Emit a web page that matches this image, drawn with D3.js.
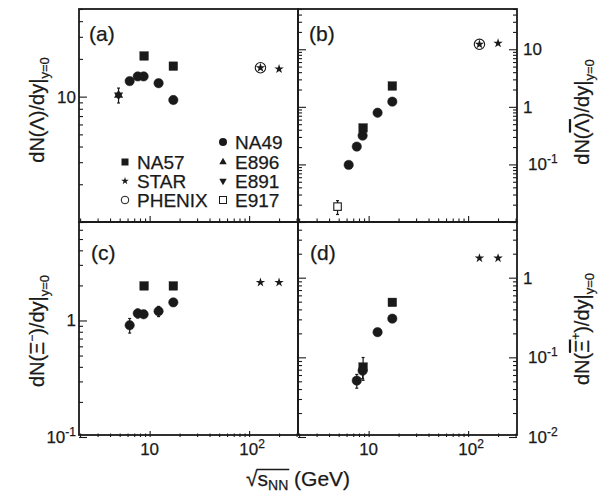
<!DOCTYPE html>
<html><head><meta charset="utf-8">
<script src="https://cdn.jsdelivr.net/npm/d3@7"></script>
<style>
body{margin:0;background:#fff}
text{font-family:"Liberation Sans",Arial,Helvetica,sans-serif;fill:#1a1a1a;stroke:#1a1a1a;stroke-width:0.25px}
</style>
</head><body>
<svg id="c" width="613" height="497"></svg>
<script>
// ---------------- data ----------------
const energyNA49 = [6.3, 7.6, 8.7, 12.3, 17.3];
const energyNA57 = [8.8, 17.3];
const energySTAR = [130, 200];
const energyPHENIX = [130];
const energyAGS = [4.87];

// Lambda
const lambdaNA49 = [13.3, 14.5, 14.5, 12.8, 9.4];
const lambdaNA57 = [21.1, 17.5];
const lambdaSTAR = [17.0, 16.6];
const lambdaPHENIX = [17.0];
const lambdaE896 = [10.3];
const lambdaE891 = [10.3];
const lambdaAGSErr = [1.4];

// anti-Lambda
const alambdaNA49 = [0.098, 0.204, 0.316, 0.79, 1.23];
const alambdaNA49Err = [0.01, 0.01, 0.02, 0.04, 0.05];
const alambdaNA57 = [0.43, 2.3];
const alambdaSTAR = [12.2, 12.7];
const alambdaPHENIX = [12.2];
const alambdaE917 = [0.0185];
const alambdaE917Err = [0.005];

// Xi-
const xiNA49 = [0.91, 1.15, 1.13, 1.2, 1.43];
const xiNA49Err = [0.13, 0.1, 0.06, 0.12, 0.05];
const xiNA57 = [1.98, 1.98];
const xiSTAR = [2.12, 2.12];

// anti-Xi+
const energyNA49axi = [7.6, 8.7, 12.3, 17.3];
const axiNA49 = [0.051, 0.068, 0.207, 0.306];
const axiNA49Err = [0.01, 0.014, 0.02, 0.02];
const axiNA57 = [0.0755, 0.49];
const axiNA57Err = [0.024, 0.03];
const axiSTAR = [1.76, 1.76];

const xDomain = [1.95, 310];

// ---------------- layout ----------------
const L = 79, M = 298, R = 517, T = 9, MY = 222, B = 437;
const svg = d3.select("#c");
const ink = "#1a1a1a";

const xL = d3.scaleLog().domain(xDomain).range([L, M]);
const xR = d3.scaleLog().domain(xDomain).range([M, R]);
const yA = d3.scaleLog().domain([1, 50]).range([MY, T]);
const yB = d3.scaleLog().domain([0.01, 50]).range([MY, T]);
const yC = d3.scaleLog().domain([0.1, 7]).range([B, MY]);
const yD = d3.scaleLog().domain([0.01, 5]).range([B, MY]);

function logTicks(dom) {
  const [a, b] = dom, major = [], minor = [];
  for (let e = Math.floor(Math.log10(a)); e <= Math.ceil(Math.log10(b)); e++) {
    for (let k = 1; k <= 9; k++) {
      const v = k * Math.pow(10, e);
      if (v >= a * 0.999 && v <= b * 1.001) (k === 1 ? major : minor).push(v);
    }
  }
  return {major, minor};
}

function axisTicks(g, axisFn, scale, majorLen, minorLen) {
  const t = logTicks(scale.domain());
  [[t.major, majorLen], [t.minor, minorLen]].forEach(([vals, len]) => {
    const a = g.append("g").call(axisFn(scale).tickValues(vals).tickSize(len).tickFormat(""));
    a.select(".domain").remove();
    a.selectAll("line").attr("stroke", ink).attr("stroke-width", 1.1);
  });
}

// x ticks (pointing up) at bottom of each panel
[[xL, MY], [xR, MY], [xL, B], [xR, B]].forEach(([sx, yy]) => {
  axisTicks(svg.append("g").attr("transform", `translate(0,${yy})`), d3.axisTop, sx, 6, 3.5);
});
// y ticks
axisTicks(svg.append("g").attr("transform", `translate(${L},0)`), d3.axisRight, yA, 8, 4);
axisTicks(svg.append("g").attr("transform", `translate(${L},0)`), d3.axisRight, yC, 8, 4);
axisTicks(svg.append("g").attr("transform", `translate(${M},0)`), d3.axisRight, yB, 8, 4);
axisTicks(svg.append("g").attr("transform", `translate(${R},0)`), d3.axisLeft, yB, 8, 4);
axisTicks(svg.append("g").attr("transform", `translate(${M},0)`), d3.axisRight, yD, 8, 4);
axisTicks(svg.append("g").attr("transform", `translate(${R},0)`), d3.axisLeft, yD, 8, 4);

// frames
[[L, T], [M, T], [L, MY], [M, MY]].forEach(([x0, y0]) => {
  svg.append("rect").attr("x", x0).attr("y", y0).attr("width", M - L).attr("height", MY - T)
    .attr("fill", "none").attr("stroke", ink).attr("stroke-width", 1.8);
});

// ---------------- tick labels ----------------
function powLabel(x, y, base, exp, anchor) {
  const t = svg.append("text").attr("x", x).attr("y", y).attr("font-size", 17).attr("text-anchor", anchor);
  t.append("tspan").text(base);
  if (exp !== null) t.append("tspan").attr("font-size", 12).attr("dy", -7).text(exp);
  return t;
}
function fmtLabel(v) {
  const e = Math.round(Math.log10(v));
  if (e === 0) return ["1", null];
  if (e === 1) return ["10", null];
  return ["10", e < 0 ? "-" + (-e) : String(e)];
}
// x labels
[xL, xR].forEach(sx => {
  [10, 100].forEach(v => {
    const [b, e] = fmtLabel(v);
    const t = powLabel(sx(v), 455, b, e, "middle");
    if (e) t.attr("transform", "translate(3,0)");
  });
});
// left y labels
[[yA, [10]], [yC, [1, 0.1]]].forEach(([sy, vals]) => {
  vals.forEach(v => { const [b, e] = fmtLabel(v); powLabel(76, sy(v) + 6, b, e, "end"); });
});
// right y labels
[[yB, [10, 1, 0.1]], [yD, [1, 0.1, 0.01]]].forEach(([sy, vals]) => {
  vals.forEach(v => { const [b, e] = fmtLabel(v); powLabel(e ? 528 : 523, sy(v) + 6, b, e, "start"); });
});

// panel labels
[["(a)", 89, 41], ["(b)", 309, 41], ["(c)", 91, 260], ["(d)", 310, 260]].forEach(([s, x, y]) => {
  svg.append("text").attr("x", x).attr("y", y).attr("font-size", 21).text(s);
});

// ---------------- axis titles ----------------
function yTitle(x, y, parts) {
  const t = svg.append("text").attr("transform", `translate(${x},${y}) rotate(-90)`)
    .attr("text-anchor", "middle").attr("font-size", 20);
  parts.forEach(p => {
    const s = t.append("tspan").text(p.s);
    if (p.fs) s.attr("font-size", p.fs);
    if (p.dy) s.attr("dy", p.dy);
    if (p.over) s.style("text-decoration", "overline");
  });
}
yTitle(44, 110, [{s: "dN(Λ)/dy|"}, {s: "y=0", fs: 13, dy: 5}]);
yTitle(589, 112, [{s: "dN("}, {s: "Λ", over: true}, {s: ")/dy|"}, {s: "y=0", fs: 13, dy: 5}]);
yTitle(44, 331, [{s: "dN(Ξ"}, {s: "−", fs: 12, dy: -8}, {s: ")/dy|", dy: 8}, {s: "y=0", fs: 13, dy: 5}]);
yTitle(589, 329, [{s: "dN("}, {s: "Ξ", over: true}, {s: "+", fs: 12, dy: -9}, {s: ")/dy|", dy: 9}, {s: "y=0", fs: 13, dy: 5}]);

// x title: sqrt(s_NN) (GeV)
(function () {
  const t = svg.append("text").attr("x", 246).attr("y", 486).attr("font-size", 21);
  t.append("tspan").text("√");
  t.append("tspan").text("s");
  t.append("tspan").attr("font-size", 14).attr("dy", 4).text("NN");
  t.append("tspan").attr("dy", -4).text(" (GeV)");
  const n = t.node();
  const x0 = n.getStartPositionOfChar(0).x + 10.5;
  const x1 = n.getEndPositionOfChar(3).x + 1;
  svg.append("line").attr("x1", x0).attr("x2", x1).attr("y1", 469.5).attr("y2", 469.5)
    .attr("stroke", ink).attr("stroke-width", 1.3);
})();

// ---------------- markers ----------------
const gM = svg.append("g");
function errBars(sx, sy, xs, ys, errs) {
  xs.forEach((xv, i) => {
    if (ys[i] == null) return;
    const lo = ys[i] - errs[i], hi = ys[i] + errs[i];
    const px = sx(xv);
    gM.append("line").attr("x1", px).attr("x2", px).attr("y1", sy(Math.max(lo, 1e-4))).attr("y2", sy(hi))
      .attr("stroke", ink).attr("stroke-width", 1.2);
    [lo, hi].forEach(v => gM.append("line").attr("x1", px - 1.5).attr("x2", px + 1.5)
      .attr("y1", sy(Math.max(v, 1e-4))).attr("y2", sy(Math.max(v, 1e-4))).attr("stroke", ink).attr("stroke-width", 1.2));
  });
}
function circles(sx, sy, xs, ys, open) {
  xs.forEach((xv, i) => {
    if (ys[i] == null) return;
    gM.append("circle").attr("cx", sx(xv)).attr("cy", sy(ys[i])).attr("r", open ? 5.2 : 4.7)
      .attr("fill", open ? "none" : ink).attr("stroke", ink).attr("stroke-width", open ? 1.1 : 0.5);
  });
}
function squares(sx, sy, xs, ys, open) {
  const s = open ? 7.5 : 8.6;
  xs.forEach((xv, i) => {
    gM.append("rect").attr("x", sx(xv) - s / 2).attr("y", sy(ys[i]) - s / 2).attr("width", s).attr("height", s)
      .attr("fill", open ? "#fff" : ink).attr("stroke", ink).attr("stroke-width", open ? 1.1 : 0.4);
  });
}
function syms(sx, sy, xs, ys, type, size, rot) {
  xs.forEach((xv, i) => {
    gM.append("path").attr("d", d3.symbol().type(type).size(size)())
      .attr("transform", `translate(${sx(xv)},${sy(ys[i])}) rotate(${rot || 0})`).attr("fill", ink);
  });
}
const starSize = 28;

// (a)
errBars(xL, yA, energyAGS, lambdaE896, lambdaAGSErr);
syms(xL, yA, energyAGS, lambdaE896, d3.symbolTriangle, 36, 0);
syms(xL, yA, energyAGS, lambdaE891, d3.symbolTriangle, 36, 180);
circles(xL, yA, energyNA49, lambdaNA49);
squares(xL, yA, energyNA57, lambdaNA57);
circles(xL, yA, energyPHENIX, lambdaPHENIX, true);
syms(xL, yA, energySTAR, lambdaSTAR, d3.symbolStar, starSize);

// (b)
errBars(xR, yB, energyAGS, alambdaE917, alambdaE917Err);
squares(xR, yB, energyAGS, alambdaE917, true);
errBars(xR, yB, energyNA49, alambdaNA49, alambdaNA49Err);
circles(xR, yB, energyNA49, alambdaNA49);
squares(xR, yB, energyNA57, alambdaNA57);
circles(xR, yB, energyPHENIX, alambdaPHENIX, true);
syms(xR, yB, energySTAR, alambdaSTAR, d3.symbolStar, starSize);

// (c)
errBars(xL, yC, energyNA49, xiNA49, xiNA49Err);
circles(xL, yC, energyNA49, xiNA49);
squares(xL, yC, energyNA57, xiNA57);
syms(xL, yC, energySTAR, xiSTAR, d3.symbolStar, starSize);

// (d)
errBars(xR, yD, energyNA49axi, axiNA49, axiNA49Err);
circles(xR, yD, energyNA49axi, axiNA49);
errBars(xR, yD, energyNA57, axiNA57, axiNA57Err);
squares(xR, yD, energyNA57, axiNA57);
syms(xR, yD, energySTAR, axiSTAR, d3.symbolStar, starSize);

// ---------------- legend ----------------
const legCol1 = ["NA57", "STAR", "PHENIX"];
const legCol2 = ["NA49", "E896", "E891", "E917"];
const leg = svg.append("g");
const c1y = [162, 181, 200], c2y = [142, 162, 181, 200];
legCol1.forEach((s, i) => leg.append("text").attr("x", 137).attr("y", c1y[i] + 7).attr("font-size", 19).text(s));
legCol2.forEach((s, i) => leg.append("text").attr("x", 235).attr("y", c2y[i] + 7).attr("font-size", 19).text(s));
leg.append("rect").attr("x", 121.5).attr("y", c1y[0] - 3.5).attr("width", 7).attr("height", 7).attr("fill", ink);
leg.append("path").attr("d", d3.symbol().type(d3.symbolStar).size(18)()).attr("transform", `translate(125,${c1y[1]})`).attr("fill", ink);
leg.append("circle").attr("cx", 125).attr("cy", c1y[2]).attr("r", 3.8).attr("fill", "none").attr("stroke", ink).attr("stroke-width", 1);
leg.append("circle").attr("cx", 223).attr("cy", c2y[0]).attr("r", 4).attr("fill", ink);
leg.append("path").attr("d", d3.symbol().type(d3.symbolTriangle).size(24)()).attr("transform", `translate(223,${c2y[1]})`).attr("fill", ink);
leg.append("path").attr("d", d3.symbol().type(d3.symbolTriangle).size(24)()).attr("transform", `translate(223,${c2y[2]}) rotate(180)`).attr("fill", ink);
leg.append("rect").attr("x", 219.5).attr("y", c2y[3] - 3.5).attr("width", 7).attr("height", 7).attr("fill", "none").attr("stroke", ink).attr("stroke-width", 1);
</script>
</body></html>
